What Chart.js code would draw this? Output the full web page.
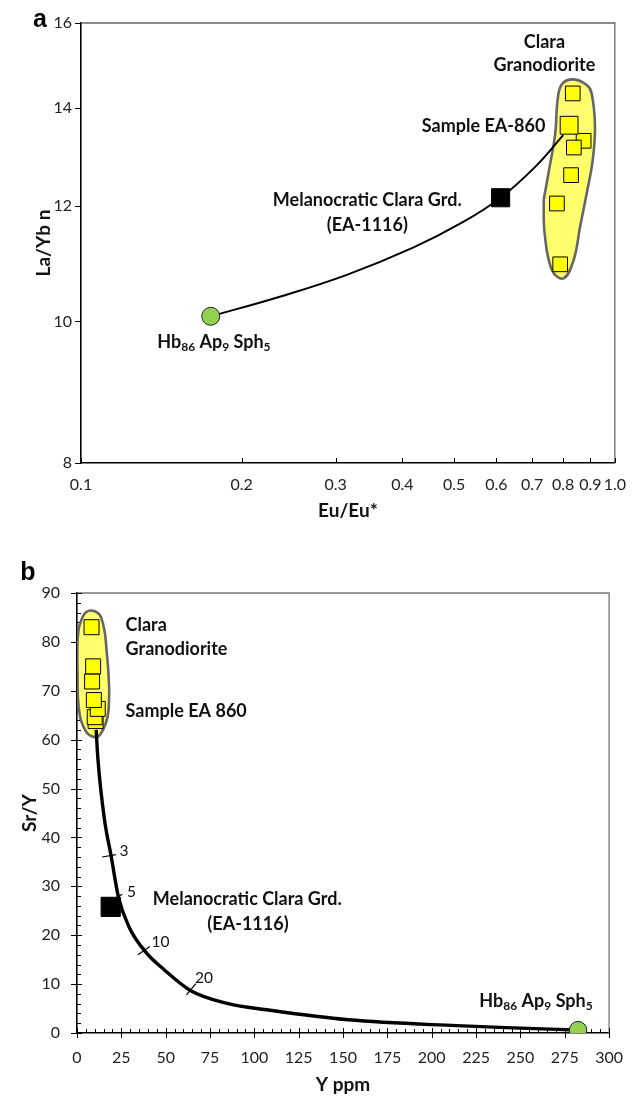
<!DOCTYPE html>
<html>
<head>
<meta charset="utf-8">
<script src="https://cdn.jsdelivr.net/npm/chart.js@4.4.1/dist/chart.umd.min.js"></script>
<style>
  html, body { margin: 0; padding: 0; background: #fff; width: 638px; height: 1096px; overflow: hidden; }
  .panel { position: absolute; left: 0; width: 638px; }
  #panelA { top: 0; height: 530px; }
  #panelB { top: 540px; height: 556px; }
</style>
</head>
<body>
<div class="panel" id="panelA"><canvas id="chartA"></canvas></div>
<div class="panel" id="panelB"><canvas id="chartB"></canvas></div>
<script>
// --- PANEL a : La/Yb n vs Eu/Eu* (log-log) ---
const euTicksA = [0.1, 0.2, 0.3, 0.4, 0.5, 0.6, 0.7, 0.8, 0.9, 1.0];
const laybTicksA = [8, 10, 12, 14, 16];

const claraEuA   = [0.834, 0.874, 0.838, 0.828, 0.779, 0.790];
const claraLaYbA = [14.32, 13.29, 13.15, 12.59, 12.04, 10.94];
const sampleEuA   = [0.821];
const sampleLaYbA = [13.62];
const melanoEuA   = [0.611];
const melanoLaYbA = [12.15];
const hbEuA   = [0.175];
const hbLaYbA = [10.08];

const curveEuA   = [0.175, 0.2366, 0.3148, 0.4188, 0.5189, 0.611, 0.710, 0.8005];
const curveLaYbA = [10.08, 10.40, 10.76, 11.23, 11.69, 12.15, 12.76, 13.41];

const fieldEuA   = [0.7357, 0.7549, 0.7735, 0.7812, 0.796, 0.8367, 0.886, 0.905, 0.918, 0.909, 0.886, 0.861, 0.837, 0.8015, 0.7626, 0.7387, 0.7357];
const fieldLaYbA = [12.11, 12.76, 13.45, 14.17, 14.53, 14.64, 14.51, 14.32, 13.59, 12.89, 12.24, 11.61, 11.01, 10.70, 10.84, 11.49, 12.11];

// --- PANEL b : Sr/Y vs Y ppm ---
const yTicksB  = [0, 25, 50, 75, 100, 125, 150, 175, 200, 225, 250, 275, 300];
const srTicksB = [0, 10, 20, 30, 40, 50, 60, 70, 80, 90];

const claraYB  = [8.2, 9.1, 8.5, 9.5, 11.7, 10.0, 10.5];
const claraSrB = [83.0, 75.0, 71.9, 68.1, 66.3, 64.6, 63.8];
const melanoYB  = [19];
const melanoSrB = [25.8];
const hbYB  = [282.5];
const hbSrB = [0.6];

const curveYB  = [10.8, 11.8, 15.5, 19.2, 23.3, 29.2, 38.4, 49.3, 63.9, 84, 110, 153, 214, 250, 282];
const curveSrB = [62, 56, 43.6, 36.3, 27.9, 21.8, 16.7, 12.9, 8.7, 6.1, 4.6, 2.7, 1.5, 1.0, 0.6];

// little cross-marks on the curve (% fractionation)
const markLabelsB = ['3', '5', '10', '20'];
const markYB  = [[14.2, 21.9], [21.0, 25.5], [34.3, 41.1], [61.7, 67.0]];
const markSrB = [[36.0, 36.5], [27.4, 28.4], [16.0, 17.7], [7.8, 10.1]];

const fieldYB  = [18.2, 17.3, 13.7, 10.0, 4.5, 0.9, 0.3, 0.3, 3.3, 8.2, 13.7, 17.0, 18.2];
const fieldSrB = [70.2, 64.8, 61.4, 60.5, 62.0, 66.8, 73.6, 80.4, 85.2, 86.4, 84.9, 77.0, 70.2];

// --- helpers ---
const FONT = 'Lato, "Open Sans", sans-serif';
const zip = (xs, ys) => xs.map((x, i) => ({ x, y: ys[i] }));
const HB_RUNS = [['Hb', 0], ['86', 1], [' Ap', 0], ['9', 1], [' Sph', 0], ['5', 1]];

function drawRuns(ctx, runs, x, y, size, align) {
    const big = `bold ${size}px ${FONT}`;
    const small = `bold ${Math.round(size * 0.66)}px ${FONT}`;
    let total = 0;
    runs.forEach(([t, sub]) => { ctx.font = sub ? small : big; total += ctx.measureText(t).width; });
    let cx = align === 'center' ? x - total / 2 : (align === 'right' ? x - total : x);
    ctx.textAlign = 'left';
    runs.forEach(([t, sub]) => {
        ctx.font = sub ? small : big;
        ctx.fillText(t, cx, sub ? y + size * 0.3 : y);
        cx += ctx.measureText(t).width;
    });
}

// frame, hand-made tick marks and annotation text
const decor = {
    id: 'decor',
    beforeDatasetsDraw(chart, args, o) {
        const { ctx, chartArea: ca, scales } = chart;
        ctx.save();
        ctx.strokeStyle = o.frameColor;
        ctx.lineWidth = 1.3;
        ctx.beginPath();
        ctx.moveTo(ca.left, ca.top); ctx.lineTo(ca.right, ca.top); ctx.lineTo(ca.right, ca.bottom);
        ctx.stroke();

        ctx.strokeStyle = '#000';
        ctx.lineWidth = 1;
        const tk = o.ticks;
        const xs = scales.x, ys = scales.y;
        const xLine = (vals, up, down) => vals.forEach(v => {
            const p = Math.round(xs.getPixelForValue(v)) + 0.5;
            ctx.beginPath(); ctx.moveTo(p, ca.bottom - up); ctx.lineTo(p, ca.bottom + down); ctx.stroke();
        });
        const yLine = (vals, out, inn) => vals.forEach(v => {
            const p = Math.round(ys.getPixelForValue(v)) + 0.5;
            ctx.beginPath(); ctx.moveTo(ca.left - out, p); ctx.lineTo(ca.left + inn, p); ctx.stroke();
        });
        xLine(tk.xMajor, tk.xMajorIn, tk.xMajorOut);
        xLine(tk.xMinor || [], tk.minorIn, 0);
        yLine(tk.yMajor, tk.yMajorOut, tk.yMajorIn);
        yLine(tk.yMinor || [], 0, tk.minorIn);
        ctx.restore();
    },
    afterDatasetsDraw(chart, args, o) {
        const { ctx, chartArea: ca, scales } = chart;
        ctx.save();
        ctx.fillStyle = '#111';
        ctx.textBaseline = 'middle';
        o.texts.forEach(t => {
            const px = scales.x.getPixelForValue(t.x);
            const py = scales.y.getPixelForValue(t.y);
            if (t.runs) { drawRuns(ctx, t.runs, px, py, t.size, t.align); return; }
            ctx.font = `${t.bold === false ? '' : 'bold '}${t.size}px ${FONT}`;
            ctx.textAlign = t.align;
            ctx.fillText(t.text, px, py);
        });
        // panel letter
        ctx.fillStyle = '#000';
        ctx.font = 'bold 25px "Liberation Sans", Arial, sans-serif';
        ctx.textAlign = 'center';
        ctx.fillText(o.letter.text, ca.left + o.letter.dx, ca.top + o.letter.dy);
        ctx.restore();
    }
};

function axisBase(title, titlePad, tickPad) {
    return {
        border: { display: true, color: '#000', width: 1.6 },
        grid: { display: true, drawOnChartArea: false, drawTicks: false },
        ticks: { color: '#222', padding: tickPad, font: { size: 16, family: FONT } },
        title: { display: true, text: title, color: '#111', padding: titlePad, font: { size: 19, weight: 'bold', family: FONT } }
    };
}

function setTicks(vals) {
    return scale => { scale.ticks = vals.map(v => ({ value: v })); };
}

Chart.defaults.font.family = FONT;
Chart.defaults.animation = false;

// ---------- chart a ----------
const xA = axisBase('Eu/Eu*', { top: 0, bottom: 8 }, 12);
Object.assign(xA, {
    type: 'logarithmic', min: 0.1, max: 1.0,
    afterBuildTicks: setTicks(euTicksA),
    afterFit: s => { s.height = 67; }
});
xA.ticks.callback = v => Number(v).toFixed(1);
xA.ticks.autoSkip = false;
xA.ticks.maxRotation = 0;

const yA = axisBase('La/Yb n', { top: 32, bottom: 0 }, 9);
Object.assign(yA, {
    type: 'logarithmic', min: 8, max: 16,
    afterBuildTicks: setTicks(laybTicksA),
    afterFit: s => { s.width = 81; }
});
yA.ticks.callback = v => String(v);

new Chart(document.getElementById('chartA'), {
    type: 'scatter',
    data: {
        datasets: [
            { type: 'line', data: zip(fieldEuA, fieldLaYbA), order: 9, fill: 'shape',
              backgroundColor: '#FFFF6E', borderColor: '#666', borderWidth: 2.6, tension: 0.4, pointRadius: 0 },
            { type: 'line', data: zip(curveEuA, curveLaYbA), order: 8, fill: false,
              borderColor: '#000', borderWidth: 2, tension: 0.4, pointRadius: 0 },
            { data: zip(claraEuA, claraLaYbA), order: 7, pointStyle: 'rect', pointRadius: 10.4,
              backgroundColor: '#FFFF00', borderColor: '#000', borderWidth: 1 },
            { data: zip(sampleEuA, sampleLaYbA), order: 6, pointStyle: 'rect', pointRadius: 12.6,
              backgroundColor: '#FFFF00', borderColor: '#000', borderWidth: 1 },
            { data: zip(melanoEuA, melanoLaYbA), order: 5, pointStyle: 'rect', pointRadius: 12.8,
              backgroundColor: '#000', borderColor: '#000', borderWidth: 1 },
            { data: zip(hbEuA, hbLaYbA), order: 4, pointStyle: 'circle', pointRadius: 9,
              backgroundColor: '#92D050', borderColor: '#222', borderWidth: 1 }
        ]
    },
    options: {
        responsive: true, maintainAspectRatio: false,
        layout: { padding: { top: 23, right: 20, left: 0, bottom: 0 } },
        scales: { x: xA, y: yA },
        plugins: {
            legend: { display: false }, tooltip: { enabled: false },
            decor: {
                frameColor: '#666',
                ticks: { xMajor: euTicksA, xMajorIn: 5, xMajorOut: 0, yMajor: laybTicksA, yMajorOut: 6, yMajorIn: 0, minorIn: 0 },
                letter: { text: 'a', dx: -41, dy: -3 },
                texts: [
                    { text: 'Clara', x: 0.738, y: 15.53, align: 'center', size: 18 },
                    { text: 'Granodiorite', x: 0.738, y: 14.97, align: 'center', size: 18 },
                    { text: 'Sample EA-860', x: 0.741, y: 13.59, align: 'right', size: 18 },
                    { text: 'Melanocratic Clara Grd.', x: 0.3438, y: 12.11, align: 'center', size: 18 },
                    { text: '(EA-1116)', x: 0.3438, y: 11.63, align: 'center', size: 18 },
                    { runs: HB_RUNS, x: 0.1774, y: 9.68, align: 'center', size: 18 }
                ]
            }
        }
    },
    plugins: [decor]
});

// ---------- chart b ----------
const minorYB = [], minorSrB = [];
for (let v = 5; v < 300; v += 5) if (v % 25) minorYB.push(v);
for (let v = 2; v < 90; v += 2) if (v % 10) minorSrB.push(v);

const xB = axisBase('Y ppm', { top: 0, bottom: 0 }, 15);
Object.assign(xB, {
    type: 'linear', min: 0, max: 300,
    afterBuildTicks: setTicks(yTicksB),
    afterFit: s => { s.height = 63; }
});
xB.ticks.autoSkip = false;
xB.ticks.maxRotation = 0;

const yB = axisBase('Sr/Y', { top: 18, bottom: 0 }, 17);
Object.assign(yB, {
    type: 'linear', min: 0, max: 90,
    afterBuildTicks: setTicks(srTicksB),
    afterFit: s => { s.width = 77; }
});

const markSets = markLabelsB.map((lbl, i) => ({
    type: 'line', data: zip(markYB[i], markSrB[i]), order: 7, fill: false,
    borderColor: '#000', borderWidth: 1.2, pointRadius: 0
}));

new Chart(document.getElementById('chartB'), {
    type: 'scatter',
    data: {
        datasets: [
            { type: 'line', data: zip(fieldYB, fieldSrB), order: 9, fill: 'shape',
              backgroundColor: '#FFFF6E', borderColor: '#666', borderWidth: 2.6, tension: 0.45, pointRadius: 0 },
            { type: 'line', data: zip(curveYB, curveSrB), order: 8, fill: false,
              borderColor: '#000', borderWidth: 3.4, cubicInterpolationMode: 'monotone', pointRadius: 0 },
            ...markSets,
            { data: zip(claraYB, claraSrB).reverse(), order: 6, pointStyle: 'rect', pointRadius: 10.6,
              backgroundColor: '#FFFF00', borderColor: '#000', borderWidth: 1 },
            { data: zip(melanoYB, melanoSrB), order: 5, pointStyle: 'rect', pointRadius: 13.6,
              backgroundColor: '#000', borderColor: '#000', borderWidth: 1 },
            { data: zip(hbYB, hbSrB), order: 4, pointStyle: 'circle', pointRadius: 8.7,
              backgroundColor: '#92D050', borderColor: '#222', borderWidth: 1 }
        ]
    },
    options: {
        responsive: true, maintainAspectRatio: false,
        layout: { padding: { top: 53, right: 14, left: 0, bottom: 0 } },
        scales: { x: xB, y: yB },
        plugins: {
            legend: { display: false }, tooltip: { enabled: false },
            decor: {
                frameColor: '#777',
                ticks: { xMajor: yTicksB, xMajorIn: 5, xMajorOut: 5, xMinor: minorYB,
                         yMajor: srTicksB, yMajorOut: 6, yMajorIn: 5, yMinor: minorSrB, minorIn: 4 },
                letter: { text: 'b', dx: -49, dy: -20 },
                texts: [
                    { text: 'Clara', x: 27.4, y: 83.4, align: 'left', size: 18 },
                    { text: 'Granodiorite', x: 27.4, y: 78.6, align: 'left', size: 18 },
                    { text: 'Sample EA 860', x: 27.4, y: 65.9, align: 'left', size: 18 },
                    { text: 'Melanocratic Clara Grd.', x: 96.0, y: 27.3, align: 'center', size: 18 },
                    { text: '(EA-1116)', x: 96.4, y: 22.2, align: 'center', size: 18 },
                    { runs: HB_RUNS, x: 258.8, y: 6.5, align: 'center', size: 18 },
                    { text: markLabelsB[0], x: 26.5, y: 37.3, align: 'center', size: 15.5, bold: false },
                    { text: markLabelsB[1], x: 30.7, y: 28.8, align: 'center', size: 15.5, bold: false },
                    { text: markLabelsB[2], x: 47.1, y: 18.7, align: 'center', size: 15.5, bold: false },
                    { text: markLabelsB[3], x: 71.6, y: 11.2, align: 'center', size: 15.5, bold: false }
                ]
            }
        }
    },
    plugins: [decor]
});
</script>
</body>
</html>
